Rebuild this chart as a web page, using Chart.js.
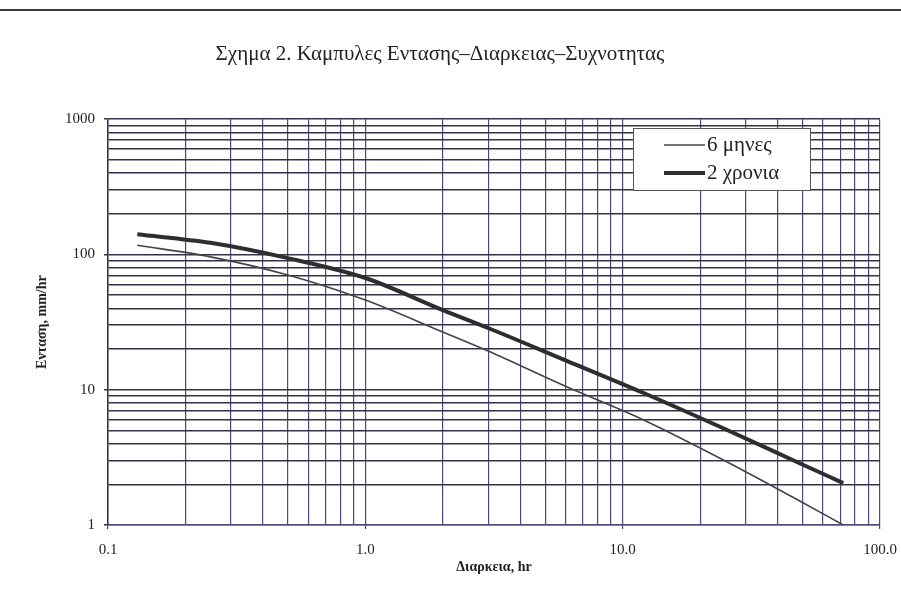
<!DOCTYPE html>
<html>
<head>
<meta charset="utf-8">
<script src="https://cdn.jsdelivr.net/npm/chart.js@4"></script>
<style>
  html, body { margin: 0; padding: 0; background: #fff; }
  #wrap { position: relative; width: 901px; height: 614px; }
  #rule { position: absolute; left: 0; top: 9px; width: 901px; height: 2px; background: #3a3a3a; }
</style>
</head>
<body>
<div id="wrap">
  <div id="rule"></div>
  <canvas id="chart" width="901" height="614"></canvas>
</div>
<script>
const durations = [0.13, 0.25, 0.5, 1, 2, 3, 6, 12, 24, 48, 72];
const sixMonths = [117, 96, 70.5, 46, 26.7, 19.3, 10.6, 6.0, 3.1, 1.53, 1.0];
const twoYears = [141, 122, 94, 67, 38.8, 28.6, 16.5, 9.5, 5.3, 2.9, 2.04];
const seriesNames = ['6 μηνες', '2 χρονια'];

const xTickValues = [0.1, 1, 10, 100];
const xTickLabels = ['0.1', '1.0', '10.0', '100.0'];
const yTickValues = [1, 10, 100, 1000];
const yTickLabels = ['1', '10', '100', '1000'];

const titleText = 'Σχημα 2. Καμπυλες Εντασης–Διαρκειας–Συχνοτητας';
const xTitle = 'Διαρκεια, hr';
const yTitle = 'Ενταση, mm/hr';

const SERIF = '"Liberation Serif", "Times New Roman", serif';

// 1..9 x 10^k gridlines between min and max
function logGrid(scale) {
  const ticks = [];
  for (let e = Math.round(Math.log10(scale.min)); e < Math.round(Math.log10(scale.max)); e++) {
    for (let k = 1; k < 10; k++) ticks.push({ value: k * Math.pow(10, e) });
  }
  ticks.push({ value: scale.max });
  scale.ticks = ticks;
}

function labelFor(values, labels, v) {
  const i = values.findIndex(t => Math.abs(t - v) / t < 1e-6);
  return i >= 0 ? labels[i] : '';
}

const boxLegend = {
  id: 'boxLegend',
  afterDraw(chart) {
    const ctx = chart.ctx;
    const x = 633, y = 128, w = 177, h = 62;
    ctx.save();
    ctx.fillStyle = '#fff';
    ctx.fillRect(x, y, w, h);
    ctx.strokeStyle = '#555';
    ctx.lineWidth = 1;
    ctx.strokeRect(x + 0.5, y + 0.5, w, h);
    chart.data.datasets.forEach((ds, i) => {
      const ly = y + 17 + i * 28;
      ctx.strokeStyle = ds.borderColor;
      ctx.lineWidth = ds.borderWidth;
      ctx.beginPath();
      ctx.moveTo(x + 31, ly);
      ctx.lineTo(x + 72, ly);
      ctx.stroke();
      ctx.fillStyle = '#222';
      ctx.font = '21px ' + SERIF;
      ctx.textBaseline = 'middle';
      ctx.fillText(ds.label, x + 74, ly);
    });
    ctx.restore();
  }
};

const gridH = '#33334a';
const gridV = '#4a4a7a';

new Chart(document.getElementById('chart'), {
  type: 'line',
  data: {
    datasets: [
      {
        label: seriesNames[0],
        data: durations.map((d, i) => ({ x: d, y: sixMonths[i] })),
        borderColor: '#444',
        borderWidth: 1.6,
        pointRadius: 0,
        cubicInterpolationMode: 'monotone'
      },
      {
        label: seriesNames[1],
        data: durations.map((d, i) => ({ x: d, y: twoYears[i] })),
        borderColor: '#2e2e2e',
        borderWidth: 4,
        pointRadius: 0,
        cubicInterpolationMode: 'monotone'
      }
    ]
  },
  options: {
    responsive: false,
    animation: false,
    layout: { padding: { left: 0, right: 21, top: 0, bottom: 19 } },
    plugins: {
      legend: { display: false },
      tooltip: { enabled: false },
      title: {
        display: true,
        text: titleText,
        color: '#222',
        font: { family: SERIF, size: 21, weight: 'normal' },
        padding: { top: 42, bottom: 52 }
      }
    },
    scales: {
      x: {
        type: 'logarithmic',
        min: 0.1,
        max: 100,
        afterBuildTicks: logGrid,
        afterFit(scale) { scale.height = 70; scale.paddingLeft = 0; scale.paddingRight = 0; },
        border: { color: gridV, width: 1.2 },
        grid: {
          color: gridV,
          lineWidth: 1.2,
          tickLength: 4,
          tickColor: c => labelFor(xTickValues, xTickLabels, c.tick.value) ? gridV : 'rgba(0,0,0,0)'
        },
        ticks: {
          autoSkip: false,
          maxRotation: 0,
          padding: 12,
          color: '#222',
          font: { family: SERIF, size: 15 },
          callback: v => labelFor(xTickValues, xTickLabels, v)
        },
        title: {
          display: true,
          text: xTitle,
          color: '#222',
          font: { family: SERIF, size: 14, weight: 'bold' },
          padding: { top: 0, bottom: 19 }
        }
      },
      y: {
        type: 'logarithmic',
        min: 1,
        max: 1000,
        afterBuildTicks: logGrid,
        afterFit(scale) { scale.width = 108; scale.paddingTop = 0; scale.paddingBottom = 0; },
        border: { color: gridH, width: 1.5 },
        grid: {
          color: gridH,
          lineWidth: 1.5,
          tickLength: 4,
          tickColor: c => labelFor(yTickValues, yTickLabels, c.tick.value) ? gridH : 'rgba(0,0,0,0)'
        },
        ticks: {
          autoSkip: false,
          padding: 9,
          color: '#222',
          font: { family: SERIF, size: 15 },
          callback: v => labelFor(yTickValues, yTickLabels, v)
        },
        title: {
          display: true,
          text: yTitle,
          color: '#222',
          font: { family: SERIF, size: 14, weight: 'bold' },
          padding: { top: 34, bottom: 0 }
        }
      }
    }
  },
  plugins: [boxLegend]
});
</script>
</body>
</html>
